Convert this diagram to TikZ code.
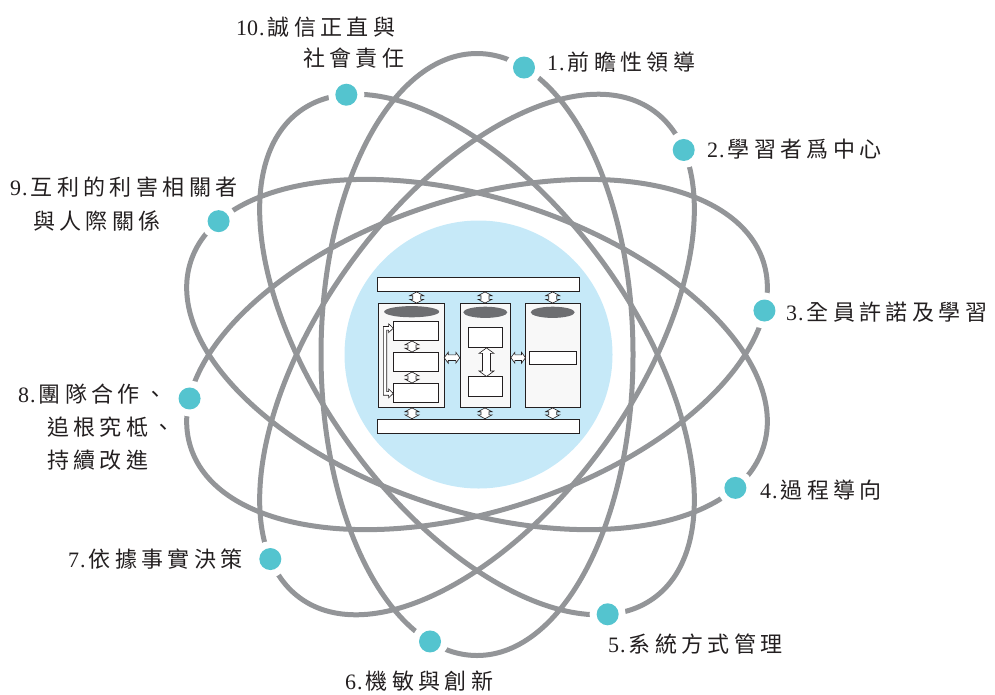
\documentclass[tikz,border=0pt]{standalone}
\usepackage{fontspec}
\setmainfont{Liberation Serif}
\newfontfamily\cjkfont{Noto Sans CJK TC}[LetterSpace=20]
\newfontfamily\numfont{Liberation Serif}
\definecolor{ringgray}{RGB}{147,149,152}
\definecolor{dotteal}{RGB}{84,196,207}
\definecolor{coreblue}{RGB}{198,233,248}
\definecolor{ink}{RGB}{35,31,32}
\definecolor{capgray}{RGB}{109,110,113}
\definecolor{colfill}{RGB}{248,248,248}
\newcommand\lbnum[2]{{\numfont #1\hspace{1pt}.\hspace{3pt}}{\cjkfont #2}}
\newcommand\lbcont[1]{{\cjkfont #1}}
% vertical double arrow: cx, cy, half length, head half width, shaft half width, head length
\newcommand\vdarrow[6]{%
  \draw[arrbox] (#1,{#2-#3}) -- ({#1+#4},{#2-#3+#6}) -- ({#1+#5},{#2-#3+#6})
    -- ({#1+#5},{#2+#3-#6}) -- ({#1+#4},{#2+#3-#6}) -- (#1,{#2+#3})
    -- ({#1-#4},{#2+#3-#6}) -- ({#1-#5},{#2+#3-#6}) -- ({#1-#5},{#2-#3+#6})
    -- ({#1-#4},{#2-#3+#6}) -- cycle;}
% horizontal double arrow
\newcommand\hdarrow[6]{%
  \draw[arrbox] ({#1-#3},#2) -- ({#1-#3+#6},{#2+#4}) -- ({#1-#3+#6},{#2+#5})
    -- ({#1+#3-#6},{#2+#5}) -- ({#1+#3-#6},{#2+#4}) -- ({#1+#3},#2)
    -- ({#1+#3-#6},{#2-#4}) -- ({#1+#3-#6},{#2-#5}) -- ({#1-#3+#6},{#2-#5})
    -- ({#1-#3+#6},{#2-#4}) -- cycle;}
\begin{document}
\begin{tikzpicture}[x=1pt,y=-1pt,
  ring/.style={draw=ringgray, line width=5pt},
  dotnode/.style={circle, fill=dotteal, minimum size=22pt, inner sep=0pt,
    preaction={draw=white, fill=white, line width=14pt}},
  lab/.style={anchor=base west, inner sep=0pt, text=ink, font=\fontsize{22}{26}\selectfont},
  frame/.style={draw=ink, line width=0.7pt},
  capell/.style={fill=capgray},
  arrbox/.style={draw=ink, fill=white, line width=0.6pt, line join=miter}
]
\useasboundingbox (0,0) rectangle (995,694);

% core circle
\node[circle, fill=coreblue, minimum size=268pt, inner sep=0pt] (core) at (478.5,354.5) {};

% orbits
\coordinate (O) at (477,354.5);
\foreach \a in {90,54,18,-18,-54}
  \draw[ring, rotate around={\a:(O)}] (O) ellipse [x radius=301pt, y radius=156pt];

% dots
\path (O) ++(80.7:290.8pt)  node[dotnode] (p1) {};
\path (O) ++(44.7:290.8pt)  node[dotnode] (p2) {};
\path (O) ++(8.7:290.8pt)   node[dotnode] (p3) {};
\path (O) ++(-27.3:290.8pt) node[dotnode] (p4) {};
\path (O) ++(-63.3:290.8pt) node[dotnode] (p5) {};
\path (O) ++(260.7:290.8pt) node[dotnode] (p6) {};
\path (O) ++(224.7:290.8pt) node[dotnode] (p7) {};
\path (O) ++(188.7:290.8pt) node[dotnode] (p8) {};
\path (O) ++(152.7:290.8pt) node[dotnode] (p9) {};
\path (O) ++(116.7:290.8pt) node[dotnode] (p10) {};

% inner diagram: bars and columns
\draw[frame, fill=white] (377.3,277.3) rectangle (579.3,291.7);
\draw[frame, fill=white] (377.3,419) rectangle (579.3,433.3);
\draw[frame, fill=colfill] (378.3,303.3) rectangle (444,407.7);
\draw[frame, fill=colfill] (460,303.3) rectangle (510.7,407.7);
\draw[frame, fill=colfill] (525.7,303.3) rectangle (580,407.7);
\fill[capell] (411.7,311.7) ellipse [x radius=27.5pt, y radius=5.6pt];
\fill[capell] (485.3,312.3) ellipse [x radius=22pt, y radius=5.6pt];
\fill[capell] (552.7,312.3) ellipse [x radius=22pt, y radius=5.6pt];
% left column boxes
\draw[frame, fill=white] (393.3,321) rectangle (438.3,340.7);
\draw[frame, fill=white] (393.3,352.3) rectangle (438.3,371.7);
\draw[frame, fill=white] (393.3,383.3) rectangle (438.3,402.7);
% middle column boxes
\draw[frame, fill=white] (468.3,327.7) rectangle (502.3,347.7);
\draw[frame, fill=white] (468.3,376.7) rectangle (502.3,396.7);
% right column box
\draw[frame, fill=white] (529.3,351) rectangle (576.7,364.3);
% left bracket arrow
\draw[arrbox] (393.3,328.2) -- (388.6,323.8) -- (388.6,326.5)
  -- (383.3,326.5) -- (383.3,395.2) -- (388.6,395.2) -- (388.6,397.8) -- (393.3,393.4)
  -- (388.6,389) -- (388.6,391.6) -- (386.7,391.6) -- (386.7,330.1) -- (388.6,330.1)
  -- (388.6,332.6) -- cycle;
% small vertical double arrows (top, bottom, between left boxes)
\vdarrow{416.7}{297.5}{5.6}{7}{4}{3.8}
\vdarrow{485}{297.5}{5.6}{7}{4}{3.8}
\vdarrow{552.7}{297.5}{5.6}{7}{4}{3.8}
\vdarrow{412}{413.3}{5.4}{7}{4}{3.8}
\vdarrow{485}{413.3}{5.4}{7}{4}{3.8}
\vdarrow{552.7}{413.3}{5.4}{7}{4}{3.8}
\vdarrow{412}{346.5}{5.5}{7}{4}{3.8}
\vdarrow{412}{377.5}{5.5}{7}{4}{3.8}
% horizontal arrows between columns
\hdarrow{452}{357.7}{7.8}{5.5}{2.8}{4}
\hdarrow{518.2}{357.7}{7.3}{5.5}{2.8}{4}
% tall arrow in middle column
\vdarrow{486.5}{362.2}{14.3}{7.5}{4}{5.5}

% labels
\node[lab] (l10a) at (236,35)  {\lbnum{10}{誠信正直與}};
\node[lab] (l10b) at (303,66)  {\lbcont{社會責任}};
\node[lab] (l1)   at (547,70)  {\lbnum{1}{前瞻性領導}};
\node[lab] (l2)   at (707,157) {\lbnum{2}{學習者爲中心}};
\node[lab] (l3)   at (786,320) {\lbnum{3}{全員許諾及學習}};
\node[lab] (l4)   at (760,498) {\lbnum{4}{過程導向}};
\node[lab] (l5)   at (608,652) {\lbnum{5}{系統方式管理}};
\node[lab] (l6)   at (345,689) {\lbnum{6}{機敏與創新}};
\node[lab] (l7)   at (68,567)  {\lbnum{7}{依據事實決策}};
\node[lab] (l8a)  at (18,402)  {\lbnum{8}{團隊合作、}};
\node[lab] (l8b)  at (47,435)  {\lbcont{追根究柢、}};
\node[lab] (l8c)  at (47,468)  {\lbcont{持續改進}};
\node[lab] (l9a)  at (10,195)  {\lbnum{9}{互利的利害相關者}};
\node[lab] (l9b)  at (33,229)  {\lbcont{與人際關係}};
\end{tikzpicture}
\end{document}
